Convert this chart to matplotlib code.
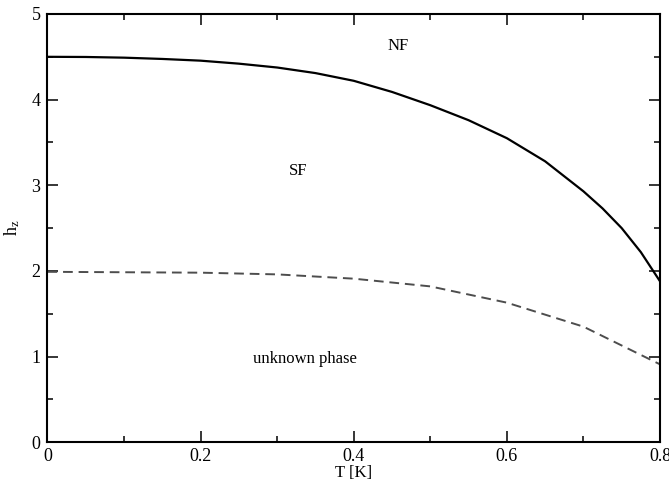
import numpy as np
import matplotlib
matplotlib.use("Agg")
import matplotlib.pyplot as plt
from matplotlib.ticker import MultipleLocator

plt.rcParams['font.family'] = ['Liberation Serif', 'DejaVu Serif']
plt.rcParams['mathtext.fontset'] = 'custom'
plt.rcParams['mathtext.rm'] = 'Liberation Serif'

# NF / SF boundary (solid)
t_nf = [0.0, 0.05, 0.1, 0.15, 0.2, 0.25, 0.3, 0.35, 0.4, 0.45, 0.5,
        0.55, 0.6, 0.65, 0.7, 0.725, 0.75, 0.775, 0.8]
h_nf = [4.50, 4.498, 4.49, 4.475, 4.455, 4.42, 4.375, 4.31, 4.22, 4.09, 3.935,
        3.76, 3.55, 3.28, 2.93, 2.73, 2.50, 2.22, 1.88]

# SF / unknown phase boundary (dashed)
t_sf = [0.0, 0.1, 0.2, 0.3, 0.4, 0.5, 0.6, 0.7, 0.8]
h_sf = [1.99, 1.985, 1.98, 1.96, 1.91, 1.82, 1.63, 1.35, 0.91]

x_ticks = [0, 0.2, 0.4, 0.6, 0.8]
x_ticklabels = ['0', '0.2', '0.4', '0.6', '0.8']
y_ticks = [0, 1, 2, 3, 4, 5]

fig = plt.figure(figsize=(6.69, 4.82), dpi=100)
ax = fig.add_axes([0.071, 0.0824, 0.9155, 0.8886])

ax.plot(t_nf, h_nf, color='black', lw=1.6, solid_joinstyle='round')
ax.plot(t_sf, h_sf, color='#4d4d4d', lw=1.4, dashes=(5, 3))

ax.set_xlim(0, 0.8)
ax.set_ylim(0, 5)
ax.set_xticks(x_ticks)
ax.set_xticklabels(x_ticklabels)
ax.set_yticks(y_ticks)
ax.xaxis.set_minor_locator(MultipleLocator(0.1))
ax.yaxis.set_minor_locator(MultipleLocator(0.5))

ax.tick_params(which='both', direction='in', top=True, right=True,
               labelsize=13, width=1.1)
ax.tick_params(axis='x', pad=4)
ax.tick_params(axis='y', pad=5)
ax.tick_params(which='major', length=8)
ax.tick_params(which='minor', length=4)
for s in ax.spines.values():
    s.set_linewidth(1.5)

ax.set_xlabel('T [K]', fontsize=12, labelpad=0)
ax.set_ylabel(r'$\mathregular{h_z}$', fontsize=13, labelpad=7)

ax.text(0.458, 4.63, 'NF', fontsize=12, ha='center', va='center')
ax.text(0.327, 3.17, 'SF', fontsize=12, ha='center', va='center')
ax.text(0.336, 0.97, 'unknown phase', fontsize=12, ha='center', va='center')

fig.savefig('out.png', dpi=100)
